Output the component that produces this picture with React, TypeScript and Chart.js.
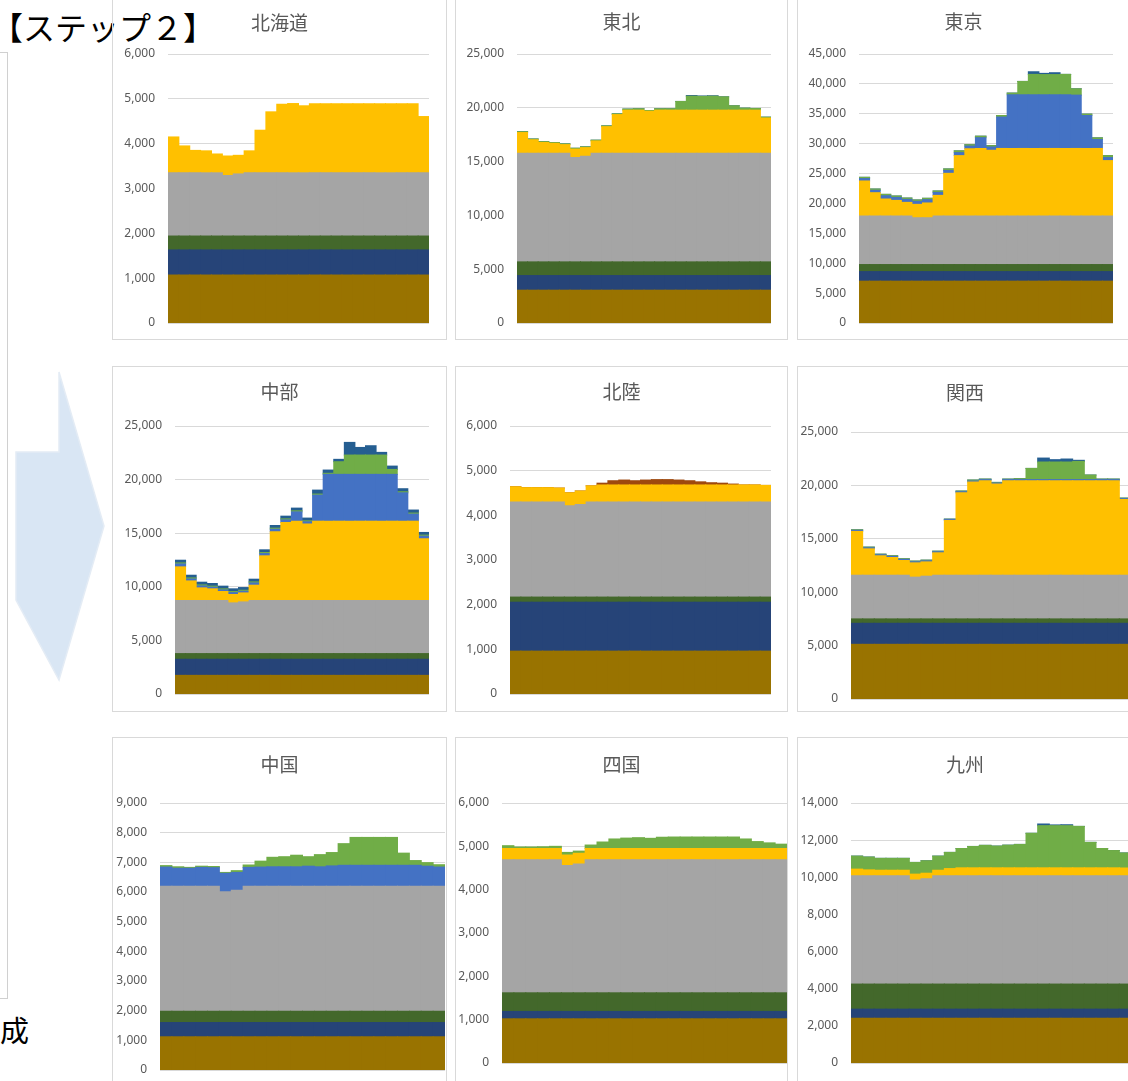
import React, { useEffect, useRef } from 'react';
import { Chart, registerables, LinearScale } from 'chart.js';

Chart.register(...registerables);

// linear scale whose tick labels are not clipped to the axis box
class NoClipLinearScale extends (LinearScale as any) {
  static id = 'noClipLinear';
  _computeLabelArea() {
    return undefined;
  }
}
Chart.register(NoClipLinearScale as any);

// ---------- categories ----------
const HOURS = ['1', '2', '3', '4', '5', '6', '7', '8', '9', '10', '11', '12', '13', '14', '15', '16', '17', '18', '19', '20', '21', '22', '23', '24'];

// ---------- series names / colours (bottom → top) ----------
const NAME_A = '原子力';
const NAME_B = '水力';
const NAME_C = '地熱・バイオマス';
const NAME_D = '石炭';
const NAME_E = 'LNG';
const NAME_F = '石油等';
const NAME_G = '太陽光・風力';
const NAME_H = '揚水';
const NAME_I = '連系線';

const COLOR_A = '#997300';
const COLOR_B = '#264478';
const COLOR_C = '#43682B';
const COLOR_D = '#A5A5A5';
const COLOR_E = '#FFC000';
const COLOR_F = '#4472C4';
const COLOR_G = '#70AD47';
const COLOR_H = '#255E91';
const COLOR_I = '#9E480E';

// ---------- 北海道 ----------
const hokkaidoA = [1070, 1070, 1070, 1070, 1070, 1070, 1070, 1070, 1070, 1070, 1070, 1070, 1070, 1070, 1070, 1070, 1070, 1070, 1070, 1070, 1070, 1070, 1070, 1070];
const hokkaidoB = [560, 560, 560, 560, 560, 560, 560, 560, 560, 560, 560, 560, 560, 560, 560, 560, 560, 560, 560, 560, 560, 560, 560, 560];
const hokkaidoC = [310, 310, 310, 310, 310, 310, 310, 310, 310, 310, 310, 310, 310, 310, 310, 310, 310, 310, 310, 310, 310, 310, 310, 310];
const hokkaidoD = [1410, 1410, 1410, 1410, 1410, 1350, 1385, 1410, 1410, 1410, 1410, 1410, 1410, 1410, 1410, 1410, 1410, 1410, 1410, 1410, 1410, 1410, 1410, 1410];
const hokkaidoE = [800, 600, 500, 490, 420, 435, 415, 490, 950, 1360, 1530, 1545, 1495, 1540, 1540, 1540, 1540, 1540, 1540, 1540, 1540, 1540, 1540, 1255];

// ---------- 東北 ----------
const tohokuA = [3050, 3050, 3050, 3050, 3050, 3050, 3050, 3050, 3050, 3050, 3050, 3050, 3050, 3050, 3050, 3050, 3050, 3050, 3050, 3050, 3050, 3050, 3050, 3050];
const tohokuB = [1360, 1360, 1360, 1360, 1360, 1360, 1360, 1360, 1360, 1360, 1360, 1360, 1360, 1360, 1360, 1360, 1360, 1360, 1360, 1360, 1360, 1360, 1360, 1360];
const tohokuC = [1270, 1270, 1270, 1270, 1270, 1270, 1270, 1270, 1270, 1270, 1270, 1270, 1270, 1270, 1270, 1270, 1270, 1270, 1270, 1270, 1270, 1270, 1270, 1270];
const tohokuD = [10100, 10100, 10100, 10100, 10100, 9690, 9820, 10100, 10100, 10100, 10100, 10100, 10100, 10100, 10100, 10100, 10100, 10100, 10100, 10100, 10100, 10100, 10100, 10100];
const tohokuE = [1920, 1250, 1000, 920, 800, 790, 800, 1140, 2470, 3590, 4000, 4000, 3900, 4000, 4000, 4000, 4000, 4000, 4000, 4000, 4000, 4000, 4000, 3270];
const tohokuG = [80, 70, 80, 70, 70, 80, 70, 70, 70, 70, 100, 130, 70, 130, 130, 810, 1300, 1280, 1300, 1240, 410, 190, 160, 80];
const tohokuH = [0, 0, 0, 0, 0, 0, 0, 0, 0, 0, 0, 0, 0, 0, 0, 0, 60, 40, 40, 0, 0, 0, 0, 0];

// ---------- 東京 ----------
const tokyoA = [7000, 7000, 7000, 7000, 7000, 7000, 7000, 7000, 7000, 7000, 7000, 7000, 7000, 7000, 7000, 7000, 7000, 7000, 7000, 7000, 7000, 7000, 7000, 7000];
const tokyoB = [1600, 1600, 1600, 1600, 1600, 1600, 1600, 1600, 1600, 1600, 1600, 1600, 1600, 1600, 1600, 1600, 1600, 1600, 1600, 1600, 1600, 1600, 1600, 1600];
const tokyoC = [1180, 1180, 1180, 1180, 1180, 1180, 1180, 1180, 1180, 1180, 1180, 1180, 1180, 1180, 1180, 1180, 1180, 1180, 1180, 1180, 1180, 1180, 1180, 1180];
const tokyoD = [8120, 8120, 8120, 8120, 8120, 7830, 7830, 8120, 8120, 8120, 8120, 8120, 8120, 8120, 8120, 8120, 8120, 8120, 8120, 8120, 8120, 8120, 8120, 8120];
const tokyoE = [5860, 3900, 2840, 2610, 2280, 2240, 2470, 3450, 7140, 10100, 11250, 11300, 11000, 11300, 11300, 11300, 11300, 11300, 11300, 11300, 11300, 11300, 11300, 9270];
const tokyoF = [400, 400, 550, 500, 500, 500, 550, 500, 480, 500, 450, 1800, 550, 5250, 8980, 8980, 8980, 8980, 8980, 8980, 8920, 5510, 1490, 500];
const tokyoG = [210, 210, 230, 230, 220, 230, 230, 230, 250, 290, 220, 250, 230, 260, 280, 2230, 3410, 3380, 3380, 3410, 1060, 230, 280, 330];
const tokyoH = [0, 0, 0, 0, 0, 0, 0, 0, 0, 0, 0, 0, 0, 0, 0, 0, 440, 200, 310, 0, 0, 0, 0, 0];

// ---------- 中部 ----------
const chubuA = [1740, 1740, 1740, 1740, 1740, 1740, 1740, 1740, 1740, 1740, 1740, 1740, 1740, 1740, 1740, 1740, 1740, 1740, 1740, 1740, 1740, 1740, 1740, 1740];
const chubuB = [1500, 1500, 1500, 1500, 1500, 1500, 1500, 1500, 1500, 1500, 1500, 1500, 1500, 1500, 1500, 1500, 1500, 1500, 1500, 1500, 1500, 1500, 1500, 1500];
const chubuC = [530, 530, 530, 530, 530, 530, 530, 530, 530, 530, 530, 530, 530, 530, 530, 530, 530, 530, 530, 530, 530, 530, 530, 530];
const chubuD = [4950, 4950, 4950, 4950, 4950, 4730, 4820, 4950, 4950, 4950, 4950, 4950, 4950, 4950, 4950, 4950, 4950, 4950, 4950, 4950, 4950, 4950, 4950, 4950];
const chubuE = [3140, 1830, 1180, 1090, 840, 780, 840, 1430, 4170, 6410, 7280, 7400, 7130, 7400, 7400, 7400, 7400, 7400, 7400, 7400, 7400, 7400, 7400, 5760];
const chubuF = [270, 180, 180, 150, 150, 180, 150, 210, 210, 240, 240, 870, 210, 2430, 4370, 4370, 4370, 4370, 4370, 4370, 4370, 2650, 660, 240];
const chubuG = [100, 100, 100, 100, 100, 100, 100, 100, 100, 100, 100, 100, 100, 100, 100, 1180, 1800, 1800, 1800, 1800, 460, 100, 100, 100];
const chubuH = [250, 250, 250, 250, 250, 250, 250, 250, 250, 250, 250, 250, 250, 370, 300, 220, 1180, 710, 870, 250, 310, 280, 280, 250];

// ---------- 北陸 ----------
const hokurikuA = [960, 960, 960, 960, 960, 960, 960, 960, 960, 960, 960, 960, 960, 960, 960, 960, 960, 960, 960, 960, 960, 960, 960, 960];
const hokurikuB = [1095, 1095, 1095, 1095, 1095, 1095, 1095, 1095, 1095, 1095, 1095, 1095, 1095, 1095, 1095, 1095, 1095, 1095, 1095, 1095, 1095, 1095, 1095, 1095];
const hokurikuC = [115, 115, 115, 115, 115, 115, 115, 115, 115, 115, 115, 115, 115, 115, 115, 115, 115, 115, 115, 115, 115, 115, 115, 115];
const hokurikuD = [2130, 2130, 2130, 2130, 2130, 2045, 2075, 2130, 2130, 2130, 2130, 2130, 2130, 2130, 2130, 2130, 2130, 2130, 2130, 2130, 2130, 2130, 2130, 2130];
const hokurikuE = [340, 320, 320, 320, 310, 290, 300, 360, 380, 380, 380, 380, 380, 380, 380, 380, 380, 380, 380, 380, 380, 380, 380, 370];
const hokurikuI = [0, 0, 0, 0, 0, 0, 0, 0, 40, 95, 110, 95, 110, 120, 120, 110, 95, 70, 50, 40, 20, 0, 0, 0];

// ---------- 関西 ----------
const kansaiA = [5120, 5120, 5120, 5120, 5120, 5120, 5120, 5120, 5120, 5120, 5120, 5120, 5120, 5120, 5120, 5120, 5120, 5120, 5120, 5120, 5120, 5120, 5120, 5120];
const kansaiB = [1970, 1970, 1970, 1970, 1970, 1970, 1970, 1970, 1970, 1970, 1970, 1970, 1970, 1970, 1970, 1970, 1970, 1970, 1970, 1970, 1970, 1970, 1970, 1970];
const kansaiC = [410, 410, 410, 410, 410, 410, 410, 410, 410, 410, 410, 410, 410, 410, 410, 410, 410, 410, 410, 410, 410, 410, 410, 410];
const kansaiD = [4090, 4090, 4090, 4090, 4090, 3910, 4000, 4090, 4090, 4090, 4090, 4090, 4090, 4090, 4090, 4090, 4090, 4090, 4090, 4090, 4090, 4090, 4090, 4090];
const kansaiE = [4100, 2470, 1820, 1660, 1380, 1340, 1340, 2100, 5130, 7720, 8720, 8850, 8540, 8850, 8850, 8850, 8850, 8850, 8850, 8850, 8850, 8850, 8850, 7100];
const kansaiF = [100, 100, 100, 100, 100, 100, 100, 100, 100, 100, 100, 100, 100, 100, 100, 100, 100, 100, 100, 100, 100, 100, 100, 70];
const kansaiG = [50, 60, 50, 60, 60, 60, 60, 50, 20, 60, 90, 50, 50, 50, 90, 1050, 1650, 1650, 1650, 1710, 430, 50, 50, 50];
const kansaiH = [0, 0, 0, 0, 0, 0, 0, 0, 0, 0, 0, 0, 0, 0, 0, 0, 370, 220, 280, 100, 0, 0, 0, 0];

// ---------- 中国 ----------
const chugokuA = [1120, 1120, 1120, 1120, 1120, 1120, 1120, 1120, 1120, 1120, 1120, 1120, 1120, 1120, 1120, 1120, 1120, 1120, 1120, 1120, 1120, 1120, 1120, 1120];
const chugokuB = [480, 480, 480, 480, 480, 480, 480, 480, 480, 480, 480, 480, 480, 480, 480, 480, 480, 480, 480, 480, 480, 480, 480, 480];
const chugokuC = [380, 380, 380, 380, 380, 380, 380, 380, 380, 380, 380, 380, 380, 380, 380, 380, 380, 380, 380, 380, 380, 380, 380, 380];
const chugokuD = [4210, 4210, 4210, 4210, 4210, 4030, 4080, 4210, 4210, 4210, 4210, 4210, 4210, 4210, 4210, 4210, 4210, 4210, 4210, 4210, 4210, 4210, 4210, 4210];
const chugokuF = [650, 610, 610, 640, 630, 620, 600, 640, 650, 660, 660, 660, 680, 660, 690, 710, 710, 710, 710, 710, 710, 710, 680, 650];
const chugokuG = [50, 50, 30, 40, 40, 30, 60, 80, 200, 320, 340, 390, 320, 410, 450, 730, 940, 940, 940, 940, 410, 160, 120, 80];

// ---------- 四国 ----------
const shikokuA = [1020, 1020, 1020, 1020, 1020, 1020, 1020, 1020, 1020, 1020, 1020, 1020, 1020, 1020, 1020, 1020, 1020, 1020, 1020, 1020, 1020, 1020, 1020, 1020];
const shikokuB = [170, 170, 170, 170, 170, 170, 170, 170, 170, 170, 170, 170, 170, 170, 170, 170, 170, 170, 170, 170, 170, 170, 170, 170];
const shikokuC = [430, 430, 430, 430, 430, 430, 430, 430, 430, 430, 430, 430, 430, 430, 430, 430, 430, 430, 430, 430, 430, 430, 430, 430];
const shikokuD = [3070, 3070, 3070, 3070, 3070, 2940, 2970, 3070, 3070, 3070, 3070, 3070, 3070, 3070, 3070, 3070, 3070, 3070, 3070, 3070, 3070, 3070, 3070, 3070];
const shikokuE = [260, 260, 260, 260, 260, 240, 250, 260, 260, 260, 260, 260, 260, 260, 260, 260, 260, 260, 260, 260, 260, 260, 260, 260];
const shikokuG = [65, 35, 35, 40, 50, 60, 50, 80, 150, 220, 240, 250, 235, 260, 265, 265, 265, 265, 265, 265, 220, 160, 130, 100];

// ---------- 九州 ----------
const kyushuA = [2410, 2410, 2410, 2410, 2410, 2410, 2410, 2410, 2410, 2410, 2410, 2410, 2410, 2410, 2410, 2410, 2410, 2410, 2410, 2410, 2410, 2410, 2410, 2410];
const kyushuB = [490, 490, 490, 490, 490, 490, 490, 490, 490, 490, 490, 490, 490, 490, 490, 490, 490, 490, 490, 490, 490, 490, 490, 490];
const kyushuC = [1350, 1350, 1350, 1350, 1350, 1350, 1350, 1350, 1350, 1350, 1350, 1350, 1350, 1350, 1350, 1350, 1350, 1350, 1350, 1350, 1350, 1350, 1350, 1350];
const kyushuD = [5830, 5830, 5830, 5830, 5830, 5610, 5670, 5830, 5830, 5830, 5830, 5830, 5830, 5830, 5830, 5830, 5830, 5830, 5830, 5830, 5830, 5830, 5830, 5830];
const kyushuE = [360, 320, 300, 300, 300, 310, 300, 300, 390, 430, 430, 430, 430, 430, 430, 430, 430, 430, 430, 430, 430, 430, 430, 420];
const kyushuG = [700, 690, 640, 640, 640, 630, 670, 760, 870, 1040, 1150, 1210, 1170, 1220, 1260, 1860, 2270, 2270, 2270, 2230, 1370, 1040, 930, 810];
const kyushuH = [0, 0, 0, 0, 0, 0, 0, 0, 0, 0, 0, 0, 0, 0, 0, 0, 90, 40, 50, 0, 0, 0, 0, 0];

// ---------- panel titles and axis settings ----------
const TITLES = ['北海道', '東北', '東京', '中部', '北陸', '関西', '中国', '四国', '九州'];
const Y_MAX = [6000, 25000, 45000, 25000, 6000, 25000, 9000, 6000, 14000];
const Y_STEP = [1000, 5000, 5000, 5000, 1000, 5000, 1000, 1000, 2000];

type Series = { name: string; color: string; data: number[] };

const SERIES: Series[][] = [
  [
    { name: NAME_A, color: COLOR_A, data: hokkaidoA },
    { name: NAME_B, color: COLOR_B, data: hokkaidoB },
    { name: NAME_C, color: COLOR_C, data: hokkaidoC },
    { name: NAME_D, color: COLOR_D, data: hokkaidoD },
    { name: NAME_E, color: COLOR_E, data: hokkaidoE },
  ],
  [
    { name: NAME_A, color: COLOR_A, data: tohokuA },
    { name: NAME_B, color: COLOR_B, data: tohokuB },
    { name: NAME_C, color: COLOR_C, data: tohokuC },
    { name: NAME_D, color: COLOR_D, data: tohokuD },
    { name: NAME_E, color: COLOR_E, data: tohokuE },
    { name: NAME_G, color: COLOR_G, data: tohokuG },
    { name: NAME_H, color: COLOR_H, data: tohokuH },
  ],
  [
    { name: NAME_A, color: COLOR_A, data: tokyoA },
    { name: NAME_B, color: COLOR_B, data: tokyoB },
    { name: NAME_C, color: COLOR_C, data: tokyoC },
    { name: NAME_D, color: COLOR_D, data: tokyoD },
    { name: NAME_E, color: COLOR_E, data: tokyoE },
    { name: NAME_F, color: COLOR_F, data: tokyoF },
    { name: NAME_G, color: COLOR_G, data: tokyoG },
    { name: NAME_H, color: COLOR_H, data: tokyoH },
  ],
  [
    { name: NAME_A, color: COLOR_A, data: chubuA },
    { name: NAME_B, color: COLOR_B, data: chubuB },
    { name: NAME_C, color: COLOR_C, data: chubuC },
    { name: NAME_D, color: COLOR_D, data: chubuD },
    { name: NAME_E, color: COLOR_E, data: chubuE },
    { name: NAME_F, color: COLOR_F, data: chubuF },
    { name: NAME_G, color: COLOR_G, data: chubuG },
    { name: NAME_H, color: COLOR_H, data: chubuH },
  ],
  [
    { name: NAME_A, color: COLOR_A, data: hokurikuA },
    { name: NAME_B, color: COLOR_B, data: hokurikuB },
    { name: NAME_C, color: COLOR_C, data: hokurikuC },
    { name: NAME_D, color: COLOR_D, data: hokurikuD },
    { name: NAME_E, color: COLOR_E, data: hokurikuE },
    { name: NAME_I, color: COLOR_I, data: hokurikuI },
  ],
  [
    { name: NAME_A, color: COLOR_A, data: kansaiA },
    { name: NAME_B, color: COLOR_B, data: kansaiB },
    { name: NAME_C, color: COLOR_C, data: kansaiC },
    { name: NAME_D, color: COLOR_D, data: kansaiD },
    { name: NAME_E, color: COLOR_E, data: kansaiE },
    { name: NAME_F, color: COLOR_F, data: kansaiF },
    { name: NAME_G, color: COLOR_G, data: kansaiG },
    { name: NAME_H, color: COLOR_H, data: kansaiH },
  ],
  [
    { name: NAME_A, color: COLOR_A, data: chugokuA },
    { name: NAME_B, color: COLOR_B, data: chugokuB },
    { name: NAME_C, color: COLOR_C, data: chugokuC },
    { name: NAME_D, color: COLOR_D, data: chugokuD },
    { name: NAME_F, color: COLOR_F, data: chugokuF },
    { name: NAME_G, color: COLOR_G, data: chugokuG },
  ],
  [
    { name: NAME_A, color: COLOR_A, data: shikokuA },
    { name: NAME_B, color: COLOR_B, data: shikokuB },
    { name: NAME_C, color: COLOR_C, data: shikokuC },
    { name: NAME_D, color: COLOR_D, data: shikokuD },
    { name: NAME_E, color: COLOR_E, data: shikokuE },
    { name: NAME_G, color: COLOR_G, data: shikokuG },
  ],
  [
    { name: NAME_A, color: COLOR_A, data: kyushuA },
    { name: NAME_B, color: COLOR_B, data: kyushuB },
    { name: NAME_C, color: COLOR_C, data: kyushuC },
    { name: NAME_D, color: COLOR_D, data: kyushuD },
    { name: NAME_E, color: COLOR_E, data: kyushuE },
    { name: NAME_G, color: COLOR_G, data: kyushuG },
    { name: NAME_H, color: COLOR_H, data: kyushuH },
  ],
];

// ---------- layout (page px) ----------
type Rect = { x: number; y: number; w: number; h: number };
type Plot = { L: number; R: number; T: number; B: number };
const FRAMES: Rect[] = [
  { x: 112, y: -6, w: 335, h: 346 },
  { x: 455, y: -6, w: 333, h: 346 },
  { x: 797, y: -6, w: 333, h: 346 },
  { x: 112, y: 366, w: 335, h: 346 },
  { x: 455, y: 366, w: 333, h: 346 },
  { x: 797, y: 366, w: 336, h: 346 },
  { x: 112, y: 737, w: 335, h: 350 },
  { x: 455, y: 737, w: 333, h: 350 },
  { x: 797, y: 737, w: 336, h: 350 },
];
const PLOTS: Plot[] = [
  { L: 168, R: 429, T: 54, B: 323 },
  { L: 517, R: 771, T: 54, B: 323 },
  { L: 859, R: 1113, T: 54, B: 323 },
  { L: 175, R: 429, T: 426, B: 694 },
  { L: 510, R: 771, T: 426, B: 694 },
  { L: 851, R: 1131, T: 432, B: 699 },
  { L: 160, R: 445, T: 803, B: 1070 },
  { L: 502, R: 787, T: 803, B: 1063 },
  { L: 851, R: 1131, T: 803, B: 1063 },
];
const TITLE_Y = [22.5, 22, 22, 392, 392, 393, 765, 765, 765];

const TITLE_SIZE = 19;
const LABEL_GAP = 13;
const JP_FONT = "'Noto Sans CJK JP', 'Noto Sans', sans-serif";
const TICK_FONT = "'Noto Sans', 'DejaVu Sans', sans-serif";
const GRAY_TEXT = '#595959';
const FRAME_COLOR = '#D9D9D9';

function Panel({ index }: { index: number }) {
  const ref = useRef<HTMLCanvasElement>(null);
  const frame = FRAMES[index];
  useEffect(() => {
    const plot = PLOTS[index];
    const lineH = TITLE_SIZE * 1.2;
    const padSide = frame.x + frame.w - plot.R;
    const yW = plot.L - frame.x - padSide;
    const tTop = TITLE_Y[index] - frame.y - lineH / 2;
    const tBottom = plot.T - frame.y - tTop - lineH;
    const padBottom = frame.y + frame.h - plot.B;
    const chart = new Chart(ref.current as HTMLCanvasElement, {
      type: 'bar',
      data: {
        labels: HOURS,
        datasets: SERIES[index].map((s) => ({
          label: s.name,
          data: s.data,
          backgroundColor: s.color,
          borderWidth: 0,
          barPercentage: 1,
          categoryPercentage: 1,
          inflateAmount: 0.5,
        })),
      },
      options: {
        animation: false,
        responsive: false,
        maintainAspectRatio: false,
        locale: 'en-US',
        layout: { padding: { left: padSide, right: padSide, top: 0, bottom: padBottom } },
        plugins: {
          legend: { display: false },
          tooltip: { enabled: false },
          title: {
            display: true,
            text: TITLES[index],
            color: GRAY_TEXT,
            font: { family: JP_FONT, size: TITLE_SIZE, weight: 'normal' },
            padding: { top: tTop, bottom: tBottom },
          },
        },
        scales: {
          x: { stacked: true, display: false },
          y: {
            type: 'noClipLinear',
            stacked: true,
            min: 0,
            max: Y_MAX[index],
            ticks: {
              stepSize: Y_STEP[index],
              color: GRAY_TEXT,
              font: { family: TICK_FONT, size: 12 },
              padding: 0,
            },
            grid: {
              color: FRAME_COLOR,
              lineWidth: 1,
              drawTicks: true,
              tickLength: LABEL_GAP,
              tickColor: 'rgba(0,0,0,0)',
            },
            border: { display: false },
            afterFit: (scale: any) => {
              scale.width = yW;
            },
          },
        },
      } as any,
    });
    return () => chart.destroy();
  }, [index]);
  return (
    <>
      <canvas
        ref={ref}
        width={frame.w}
        height={frame.h}
        style={{ position: 'absolute', left: frame.x, top: frame.y, width: frame.w, height: frame.h }}
      />
      <div
        style={{
          position: 'absolute',
          left: frame.x,
          top: frame.y,
          width: frame.w,
          height: frame.h,
          border: `1px solid ${FRAME_COLOR}`,
          boxSizing: 'border-box',
          pointerEvents: 'none',
        }}
      />
    </>
  );
}

export default function App() {
  return (
    <div
      style={{
        position: 'fixed',
        left: 0,
        top: 0,
        width: 1128,
        height: 1081,
        overflow: 'hidden',
        background: '#FFFFFF',
      }}
    >
      {/* left frame (partially visible) */}
      <div
        style={{
          position: 'absolute',
          left: -100,
          top: 52,
          width: 108,
          height: 947,
          border: '1px solid #D0D0D0',
          boxSizing: 'border-box',
        }}
      />
      {/* arrow */}
      <svg width={120} height={330} style={{ position: 'absolute', left: 0, top: 360 }}>
        <polygon
          points="16,92 59,92 59,12 104,166 59,320 16,240"
          fill="#D9E6F4"
          stroke="#E4ECF5"
          strokeWidth={1.5}
        />
      </svg>
      <div
        style={{
          position: 'absolute',
          left: -9,
          top: 6,
          fontFamily: JP_FONT,
          fontSize: 32,
          lineHeight: '40px',
          color: '#000000',
          whiteSpace: 'nowrap',
        }}
      >
        【ステップ２】
      </div>
      <div
        style={{
          position: 'absolute',
          left: 0,
          top: 1009,
          fontFamily: JP_FONT,
          fontSize: 29,
          lineHeight: '40px',
          color: '#000000',
          whiteSpace: 'nowrap',
        }}
      >
        成
      </div>
      {TITLES.map((_, i) => (
        <Panel key={i} index={i} />
      ))}
    </div>
  );
}
